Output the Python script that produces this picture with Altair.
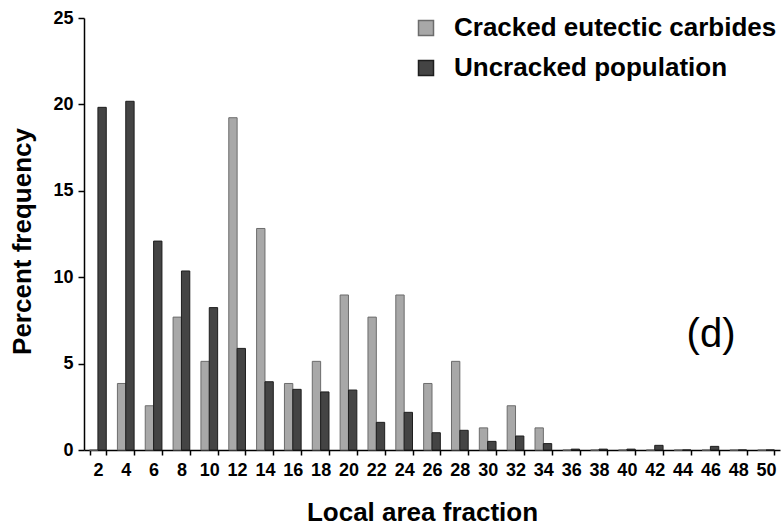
import altair as alt
import pandas as pd

categories = [2, 4, 6, 8, 10, 12, 14, 16, 18, 20, 22, 24, 26, 28, 30, 32, 34, 36, 38, 40, 42, 44, 46, 48, 50]
series_names = ["Cracked eutectic carbides", "Uncracked population"]
cracked = [0, 3.85, 2.56, 7.69, 5.13, 19.23, 12.82, 3.85, 5.13, 8.97, 7.69, 8.97, 3.85,
           5.13, 1.28, 2.56, 1.28, 0, 0, 0, 0, 0, 0, 0, 0]
uncracked = [19.83, 20.18, 12.09, 10.36, 8.24, 5.88, 3.95, 3.51, 3.36, 3.47, 1.60, 2.18, 1.00,
             1.14, 0.50, 0.81, 0.37, 0.05, 0.05, 0.05, 0.27, 0, 0.21, 0, 0]
y_ticks = [0, 5, 10, 15, 20, 25]
fills = ["#a8a8a8", "#444444"]
strokes = ["#6c6c6c", "#1e1e1e"]
panel_label = ["(d)"]

rows = []
for c, a, b in zip(categories, cracked, uncracked):
    rows.append({"cat": c, "series": series_names[0], "value": a})
    rows.append({"cat": c, "series": series_names[1], "value": b})
df = pd.DataFrame(rows)

FONT = "Liberation Sans"


def legend():
    return alt.Legend(
        title=None,
        orient="none",
        legendX=329,
        legendY=-3,
        symbolType="square",
        symbolSize=225,
        symbolStrokeWidth=1.5,
        labelFontSize=26,
        labelFont=FONT,
        labelFontWeight="bold",
        labelColor="black",
        labelOffset=15,
        rowPadding=14,
        padding=0,
        labelLimit=400,
    )


bars = alt.Chart(df).mark_bar(strokeWidth=1).encode(
    x=alt.X(
        "cat:O",
        scale=alt.Scale(paddingInner=0.4, paddingOuter=0.2),
        axis=alt.Axis(
            title="Local area fraction",
            labelAngle=0,
            tickBand="extent",
            tickSize=5,
            labelPadding=6,
            labelFontSize=18,
            labelFont=FONT,
            labelFontWeight="bold",
            titleX=338,
            titleY=62,
            titleBaseline="middle",
            titleAlign="center",
        ),
    ),
    xOffset=alt.XOffset("series:N", sort=series_names,
                        scale=alt.Scale(paddingInner=0, paddingOuter=0)),
    y=alt.Y(
        "value:Q",
        scale=alt.Scale(domain=[0, 25], nice=False),
        axis=alt.Axis(
            title="Percent frequency",
            values=y_ticks,
            grid=False,
            tickSize=6,
            labelPadding=5,
            labelFontSize=18,
            labelFont=FONT,
            labelFontWeight="bold",
            titleX=-62,
            titleY=223,
            titleBaseline="middle",
            titleAlign="center",
        ),
    ),
    color=alt.Color(
        "series:N",
        scale=alt.Scale(domain=series_names, range=fills),
        legend=legend(),
    ),
    stroke=alt.Stroke(
        "series:N",
        scale=alt.Scale(domain=series_names, range=strokes),
        legend=legend(),
    ),
)

label = alt.Chart(pd.DataFrame({"t": panel_label})).mark_text(
    font=FONT, fontSize=40, color="black", align="center", baseline="middle"
).encode(
    text="t:N",
    x=alt.value(627),
    y=alt.value(317),
)

chart = alt.layer(bars, label).properties(
    width=696,
    height=432,
    padding={"left": 84, "top": 18, "right": 4, "bottom": 80},
    autosize=alt.AutoSizeParams(type="none"),
).configure_view(stroke=None).configure_axis(
    domainColor="black",
    domainWidth=1.5,
    tickColor="black",
    tickWidth=1.5,
    labelColor="black",
    titleFont=FONT,
    titleFontWeight="bold",
    titleFontSize=26,
    titleColor="black",
)

chart.save("out.html", embed_options={"renderer": "svg", "actions": False})
